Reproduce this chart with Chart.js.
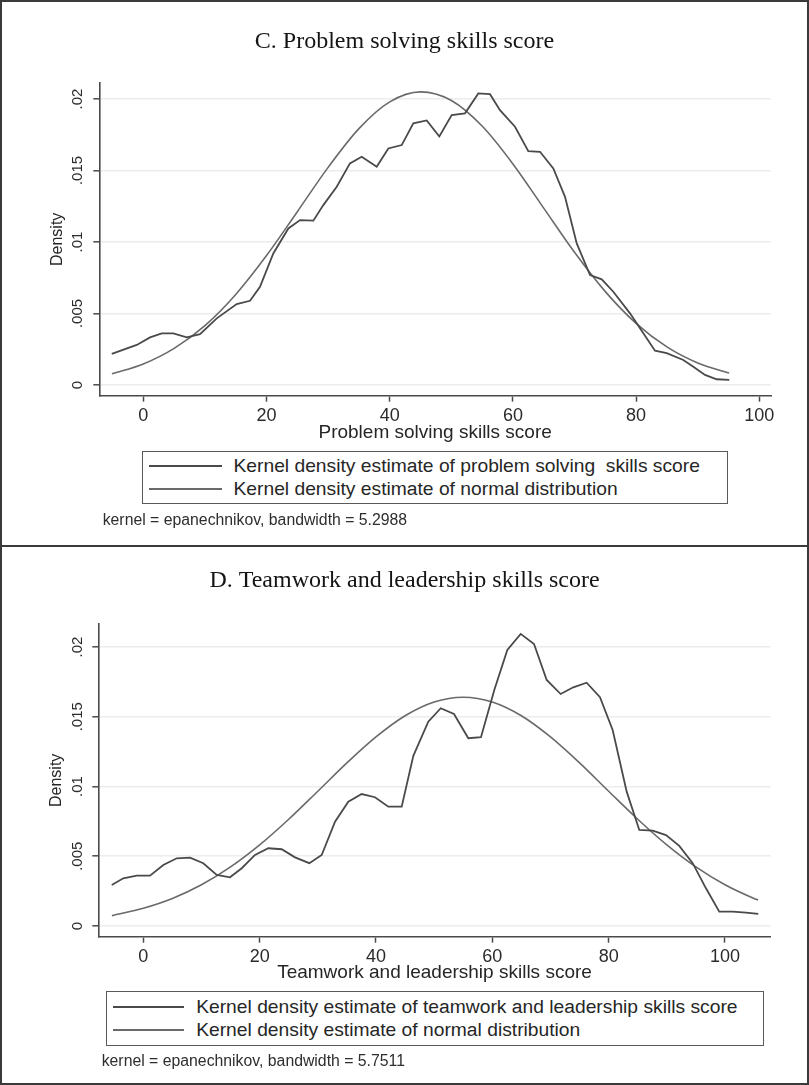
<!DOCTYPE html>
<html>
<head>
<meta charset="utf-8">
<script src="https://cdn.jsdelivr.net/npm/chart.js@4/dist/chart.umd.min.js"></script>
<style>
  html, body { margin: 0; padding: 0; background: #ffffff; }
  #page { position: relative; width: 809px; height: 1085px; overflow: hidden; background: #fff; }
  #page canvas { position: absolute; left: 0; }
  .frame { position: absolute; left: 0; top: 0; width: 809px; height: 1085px; box-sizing: border-box;
           border: 2px solid #3a3a3a; pointer-events: none; }
  .divider { position: absolute; left: 0; width: 809px; height: 2px; background: #3a3a3a; }
  .legend { position: absolute; box-sizing: border-box; border: 1.5px solid #5a5a5a; background: #fff;
            font-family: "Liberation Sans", Arial, sans-serif; font-size: 19.25px; color: #262626; }
  .legend .row { display: flex; align-items: center; white-space: pre; }
  .legend .swatch { display: inline-block; height: 0; border-top-style: solid; }
  .note { position: absolute; font-family: "Liberation Sans", Arial, sans-serif; font-size: 15.8px;
          line-height: 18px; color: #2e2e2e; white-space: pre; }
</style>
</head>
<body>
<div id="page">
  <canvas id="chartC" width="809" height="546" style="top:0px"></canvas>
  <canvas id="chartD" width="809" height="539" style="top:546px"></canvas>
  <div id="legendC" class="legend"></div>
  <div id="legendD" class="legend"></div>
  <div id="noteC" class="note"></div>
  <div id="noteD" class="note"></div>
  <div class="divider" style="top:545px"></div>
  <div class="frame"></div>
</div>
<script>
// ---- Panel C: problem solving skills score ----
const psKernelX = [-5.13, -1.07, 1.09, 2.99, 4.87, 7.05, 9.20, 11.92, 15.16, 17.32, 18.94, 21.10, 23.54, 25.44,
  27.60, 29.22, 31.40, 33.54, 35.45, 37.89, 39.77, 41.95, 43.83, 46.01, 48.05, 50.06, 52.22, 54.38, 56.28, 57.90,
  60.34, 62.50, 64.40, 66.56, 68.46, 70.36, 72.52, 74.42, 76.30, 79.01, 80.63, 83.07, 84.97, 87.66, 89.29, 91.19,
  93.08, 95.13];
const psKernelY = [0.00217, 0.0028, 0.00333, 0.00361, 0.00361, 0.00333, 0.00356, 0.00466, 0.00566, 0.00589,
  0.00687, 0.0092, 0.01095, 0.01153, 0.01149, 0.01258, 0.01386, 0.0155, 0.01596, 0.01526, 0.01654, 0.01678,
  0.0183, 0.0185, 0.01738, 0.01887, 0.019, 0.02039, 0.02034, 0.01922, 0.01806, 0.01636, 0.01631, 0.01515,
  0.01316, 0.0099, 0.00769, 0.00739, 0.00652, 0.00501, 0.00396, 0.0024, 0.00222, 0.00175, 0.00128, 0.0007,
  0.0004, 0.00035];
const psNormalX = [-5.1, 0, 5, 10, 15, 20, 25, 30, 35, 40, 45, 50, 55, 60, 65, 70, 75, 80, 85, 90, 95.1];
const psNormalY = [0.00078, 0.00147, 0.00256, 0.00415, 0.00633, 0.00905, 0.01212, 0.01522, 0.01793, 0.0198,
  0.0205, 0.0199, 0.01811, 0.01546, 0.01237, 0.00928, 0.00653, 0.00431, 0.00266, 0.00154, 0.00083];

// ---- Panel D: teamwork and leadership skills score ----
const twKernelX = [-5.43, -3.44, -1.13, 1.15, 3.44, 5.74, 8.03, 10.31, 12.62, 14.90, 16.92, 19.20, 21.49, 23.79,
  26.08, 28.54, 30.67, 32.96, 35.24, 37.54, 39.83, 42.12, 44.42, 46.42, 48.99, 51.13, 53.41, 55.87, 58.05, 60.34,
  62.58, 64.88, 67.17, 69.35, 71.75, 73.92, 76.22, 78.51, 80.69, 83.10, 85.27, 87.57, 89.86, 92.14, 94.45, 96.73,
  99.02, 101.32, 103.61, 105.72];
const twKernelY = [0.00294, 0.00342, 0.00361, 0.00361, 0.00437, 0.00485, 0.0049, 0.0045, 0.00366, 0.00349,
  0.00414, 0.00509, 0.00557, 0.0055, 0.00492, 0.0045, 0.00509, 0.00748, 0.00891, 0.00946, 0.00923, 0.00855,
  0.00855, 0.0122, 0.01465, 0.01561, 0.0152, 0.01346, 0.01353, 0.01692, 0.01979, 0.02094, 0.02022, 0.01764,
  0.01663, 0.01711, 0.01744, 0.0164, 0.01405, 0.00963, 0.00688, 0.00683, 0.00652, 0.00574, 0.0045, 0.0027,
  0.00103, 0.00103, 0.00095, 0.00086];
const twNormalX = [-5.4, 0, 5, 10, 15, 20, 25, 30, 35, 40, 45, 50, 55, 60, 65, 70, 75, 80, 85, 90, 95, 100, 105, 105.7];
const twNormalY = [0.00074, 0.00127, 0.00197, 0.00295, 0.00423, 0.00581, 0.00765, 0.00966, 0.01169, 0.01355,
  0.01507, 0.01606, 0.0164, 0.01606, 0.01507, 0.01355, 0.01169, 0.00966, 0.00765, 0.00581, 0.00423, 0.00295,
  0.00197, 0.00186];

// ---- Shared axis ticks ----
const xTickValues = [0, 20, 40, 60, 80, 100];
const yTickValues = [0, 0.005, 0.01, 0.015, 0.02];
const yTickLabels = ['0', '.005', '.01', '.015', '.02'];

const SANS = '"Liberation Sans", Arial, sans-serif';
const SERIF = '"Liberation Serif", "Times New Roman", serif';
const KERNEL_COLOR = '#4a4a4a';
const NORMAL_COLOR = '#6a6a6a';
const AXIS_COLOR = '#4a4a4a';

function points(xs, ys) { return xs.map((x, i) => ({ x: x, y: ys[i] })); }

function yLabel(v) {
  const i = yTickValues.findIndex(t => Math.abs(t - v) < 1e-9);
  return i >= 0 ? yTickLabels[i] : '';
}

function panel(p) {
  const datasets = [
    { label: p.kernelLabel, data: points(p.kx, p.ky), borderColor: KERNEL_COLOR, borderWidth: 1.8,
      pointRadius: 0, tension: 0, fill: false },
    { label: 'Kernel density estimate of normal distribution', data: points(p.nx, p.ny), borderColor: NORMAL_COLOR,
      borderWidth: 1.6, pointRadius: 0, tension: 0.4, cubicInterpolationMode: 'monotone', fill: false }
  ];
  const chart = new Chart(document.getElementById(p.canvas), {
    type: 'line',
    data: { datasets: datasets },
    options: {
      responsive: false, animation: false, events: [],
      layout: { padding: p.pad },
      plugins: {
        legend: { display: false },
        tooltip: { enabled: false },
        title: { display: true, text: p.title, color: '#141414',
                 font: { family: SERIF, size: 24, weight: 'normal', lineHeight: 1.2 },
                 padding: p.titlePad }
      },
      scales: {
        x: {
          type: 'linear', min: p.xMin, max: p.xMax,
          afterBuildTicks: s => { s.ticks = xTickValues.map(v => ({ value: v })); },
          afterFit: s => { s.height = p.xHeight; },
          ticks: { autoSkip: false, maxRotation: 0, padding: 3.5, color: '#2b2b2b',
                   font: { family: SANS, size: 18 }, callback: v => String(v) },
          grid: { drawOnChartArea: false, drawTicks: true, tickLength: 6, tickColor: AXIS_COLOR, tickWidth: 1.5 },
          border: { display: true, color: AXIS_COLOR, width: 1.6 },
          title: { display: true, text: p.xTitle, color: '#262626',
                   font: { family: SANS, size: 19 }, padding: { top: 0, bottom: 0 } }
        },
        y: {
          type: 'linear', min: p.yMin, max: p.yMax,
          afterBuildTicks: s => { s.ticks = yTickValues.map(v => ({ value: v })); },
          afterFit: s => { s.width = p.yWidth; },
          ticks: { autoSkip: false, minRotation: 90, maxRotation: 90, crossAlign: 'center', padding: p.yTickPad,
                   color: '#2b2b2b', font: { family: SANS, size: 15 }, callback: v => yLabel(v) },
          grid: { color: '#ececec', lineWidth: 1.6, drawTicks: true, tickLength: 6, tickColor: AXIS_COLOR, tickWidth: 1.5 },
          border: { display: true, color: AXIS_COLOR, width: 1.6 },
          title: { display: true, text: 'Density', color: '#262626',
                   font: { family: SANS, size: 16 }, padding: { top: p.yTitlePad, bottom: 0 } }
        }
      }
    }
  });

  // legend box built from the chart's own datasets
  const box = document.getElementById(p.legend);
  Object.assign(box.style, { left: p.lg.left + 'px', top: p.lg.top + 'px', width: p.lg.width + 'px',
                             height: p.lg.height + 'px', paddingTop: p.lg.padTop + 'px' });
  chart.data.datasets.forEach(ds => {
    const row = document.createElement('div');
    row.className = 'row';
    row.style.height = p.lg.rowH + 'px';
    const sw = document.createElement('span');
    sw.className = 'swatch';
    Object.assign(sw.style, { width: p.lg.swatchW + 'px', marginLeft: p.lg.swatchL + 'px',
                              marginRight: p.lg.gap + 'px', borderTopWidth: '2px', borderTopColor: ds.borderColor });
    const tx = document.createElement('span');
    tx.textContent = ds.label;
    row.appendChild(sw);
    row.appendChild(tx);
    box.appendChild(row);
  });

  const note = document.getElementById(p.note);
  note.textContent = p.noteText;
  note.style.left = p.noteLeft + 'px';
  note.style.top = p.noteTop + 'px';
  return chart;
}

panel({
  canvas: 'chartC', legend: 'legendC', note: 'noteC',
  title: 'C. Problem solving skills score',
  xTitle: 'Problem solving skills score',
  kernelLabel: 'Kernel density estimate of problem solving  skills score',
  kx: psKernelX, ky: psKernelY, nx: psNormalX, ny: psNormalY,
  xMin: -7.15, xMax: 101.9, yMin: -0.00075, yMax: 0.02112,
  pad: { left: 38, right: 38, top: 0, bottom: 102.3 },
  titlePad: { top: 27.4, bottom: 26.8 },
  yWidth: 61.3, xHeight: 48, yTickPad: 1, yTitlePad: 9.7,
  lg: { left: 141.7, top: 450.7, width: 586.6, height: 53.6, padTop: 3.4, rowH: 22.3, swatchL: 6.8, swatchW: 72.3, gap: 11.7 },
  noteText: 'kernel = epanechnikov, bandwidth = 5.2988', noteLeft: 102.7, noteTop: 511
});

panel({
  canvas: 'chartD', legend: 'legendD', note: 'noteD',
  title: 'D. Teamwork and leadership skills score',
  xTitle: 'Teamwork and leadership skills score',
  kernelLabel: 'Kernel density estimate of teamwork and leadership skills score',
  kx: twKernelX, ky: twKernelY, nx: twNormalX, ny: twNormalY,
  xMin: -7.74, xMax: 107.86, yMin: -0.00077, yMax: 0.02165,
  pad: { left: 38.3, right: 38.3, top: 0, bottom: 100.9 },
  titlePad: { top: 20.1, bottom: 29.1 },
  yWidth: 60, xHeight: 47.4, yTickPad: 0, yTitlePad: 9.1,
  lg: { left: 105.7, top: 990.7, width: 658.3, height: 55, padTop: 3.8, rowH: 22.7, swatchL: 6.1, swatchW: 71.7, gap: 11.7 },
  noteText: 'kernel = epanechnikov, bandwidth = 5.7511', noteLeft: 101.7, noteTop: 1052
});
</script>
</body>
</html>
